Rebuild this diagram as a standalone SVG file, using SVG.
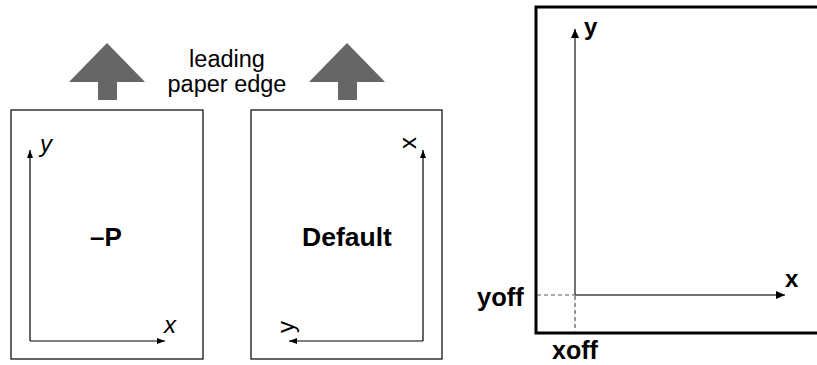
<svg xmlns="http://www.w3.org/2000/svg" width="817" height="365" viewBox="0 0 817 365">
  <style>
    text { font-family: "Liberation Sans", Arial, sans-serif; fill: #000; }
    .page { fill: #fff; stroke: #000; stroke-width: 1.2; }
    .axis { fill: none; stroke: #000; stroke-width: 1.2; }
    .axis2 { fill: none; stroke: #444; stroke-width: 1.5; }
    .dash { fill: none; stroke: #555; stroke-width: 1.2; stroke-dasharray: 4 3; }
    .feed { fill: #666; }
    .lbl { font-size: 24px; }
    .ital { font-style: italic; }
    .bold { font-weight: bold; }
  </style>
  <defs>
    <marker id="tip" viewBox="0 0 8 6" refX="8" refY="3" markerWidth="8" markerHeight="6" markerUnits="userSpaceOnUse" orient="auto">
      <path d="M0,0 L8,3 L0,6 Z" fill="#000"/>
    </marker>
    <marker id="tip2" viewBox="0 0 9 8" refX="9" refY="4" markerWidth="9" markerHeight="8" markerUnits="userSpaceOnUse" orient="auto">
      <path d="M0,0 L9,4 L0,8 Z" fill="#000"/>
    </marker>
  </defs>

  <!-- feed direction arrows -->
  <g id="feed-arrows">
    <path class="feed" d="M69,82 L107,43 L145,82 L117,82 L117,100 L98,100 L98,82 Z"/>
    <path class="feed" d="M309,82 L347,43 L385,82 L357,82 L357,100 L338,100 L338,82 Z"/>
  </g>
  <g id="feed-label">
    <text x="227" y="67" font-size="23.5" text-anchor="middle">leading</text>
    <text x="227" y="92" font-size="23.5" text-anchor="middle">paper edge</text>
  </g>

  <!-- page with -P option -->
  <g id="page-p">
    <rect class="page" x="11" y="110" width="192" height="249"/>
    <path class="axis" d="M30,341 L30,150" marker-end="url(#tip)"/>
    <path class="axis" d="M30,341 L165,341" marker-end="url(#tip)"/>
    <text class="lbl ital" x="40" y="152">y</text>
    <text class="lbl ital" x="164" y="333">x</text>
    <text class="bold" x="106" y="246" font-size="26" text-anchor="middle">–P</text>
  </g>

  <!-- page with default orientation -->
  <g id="page-default">
    <rect class="page" x="251" y="110" width="191" height="249"/>
    <path class="axis" d="M423,341 L423,150" marker-end="url(#tip)"/>
    <path class="axis" d="M423,341 L289,341" marker-end="url(#tip)"/>
    <text class="lbl" transform="translate(416,149) rotate(-90)">x</text>
    <text class="lbl" transform="translate(294,333) rotate(-90)">y</text>
    <text class="bold" x="347" y="246" font-size="26.5" text-anchor="middle">Default</text>
  </g>

  <!-- device coordinate frame with offsets -->
  <g id="frame">
    <path d="M820,7 L536,7 L536,333 L820,333" fill="none" stroke="#000" stroke-width="3"/>
  </g>
  <g id="connectors">
    <path class="axis2" d="M575,295 L575,29" marker-end="url(#tip2)"/>
    <path class="axis2" d="M575,295 L785,295" marker-end="url(#tip2)"/>
    <path class="dash" d="M537,295 L575,295"/>
    <path class="dash" d="M575,296 L575,332"/>
  </g>
  <g id="frame-labels">
    <text class="bold" x="584" y="35" font-size="24">y</text>
    <text class="bold" x="785" y="287" font-size="24">x</text>
    <text class="bold" x="477" y="306" font-size="25.5">yoff</text>
    <text class="bold" x="552" y="359" font-size="25">xoff</text>
  </g>
</svg>
